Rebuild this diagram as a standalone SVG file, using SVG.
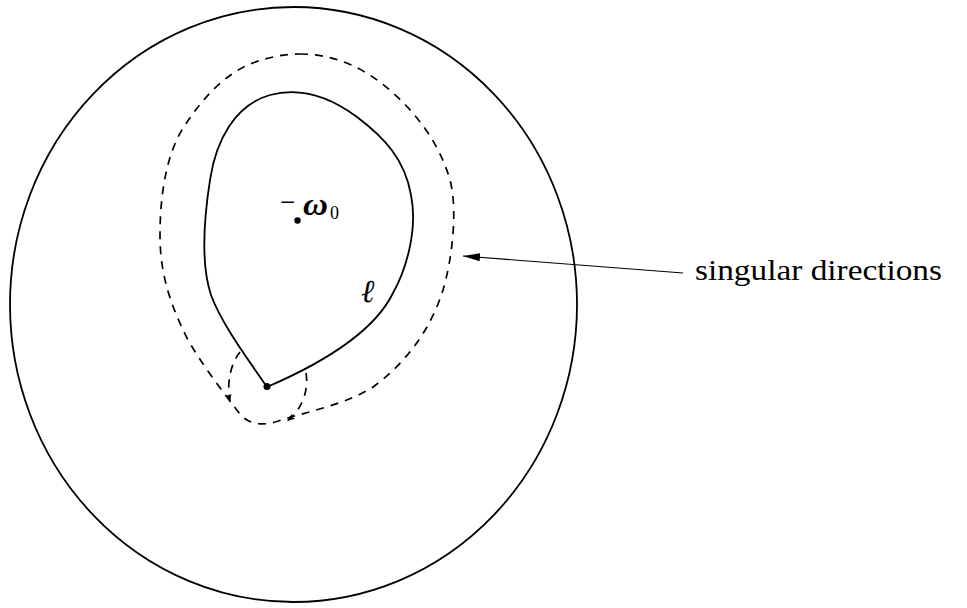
<svg xmlns="http://www.w3.org/2000/svg" width="967" height="608" viewBox="0 0 967 608">
<style>
.solid{fill:none;stroke:#000;stroke-width:1.8}
.dash{fill:none;stroke:#000;stroke-width:1.7;stroke-dasharray:8 7}
.thin{fill:none;stroke:#000;stroke-width:1.1}
.lbl{font-family:"Liberation Serif","DejaVu Serif",serif;fill:#000}
</style>
<defs>
<marker id="bigArrow" markerUnits="userSpaceOnUse" viewBox="0 0 17 8" refX="17" refY="4" markerWidth="17" markerHeight="8" orient="auto">
<path d="M0,0 L17,4 L0,8 z" fill="#000"/>
</marker>
<marker id="smallArrow" markerUnits="userSpaceOnUse" viewBox="0 0 8 6" refX="8" refY="3" markerWidth="8" markerHeight="6" orient="auto">
<path d="M0,0 L8,3 L0,6 L2,3 z" fill="#000"/>
</marker>
</defs>
<rect width="967" height="608" fill="#fff"/>
<g id="outer-disc">
<ellipse class="solid" cx="293.5" cy="304.5" rx="283.5" ry="297.5" stroke-width="1.7"/>
</g>
<g id="singular-curve">
<path class="dash" d="M300,54 C335,54 365,68 392,92 C418,115 440,145 450,180 C458,210 452,260 443,290 C432,325 410,360 373,387 C345,405 305,412 275,422 C262,426 248,424 240,414 C225,395 200,362 187,338 C168,300 160,270 160,235 C160,190 168,150 185,125 C205,95 225,75 250,64 C268,57 285,54 300,54 Z"/>
</g>
<g id="loop-l">
<path class="solid" d="M267,387 C250,362 222,325 211,295 C202,268 203,225 210,180 C216,140 235,105 270,95 C300,87 330,97 357,117 C385,138 405,160 411,195 C418,230 406,270 393,293 C375,330 325,362 267,387"/>
<circle cx="267" cy="386.5" r="3.5" fill="#000"/>
<text class="lbl" x="361" y="302" font-size="32" font-style="italic">ℓ</text>
</g>
<g id="omega0">
<circle cx="297.5" cy="220.5" r="3.2" fill="#000"/>
<text class="lbl" x="280" y="211" font-size="27">−</text>
<text class="lbl" x="303" y="215" font-size="32" font-weight="bold" font-style="italic" textLength="25" lengthAdjust="spacingAndGlyphs">ω</text>
<text class="lbl" x="330" y="219" font-size="18">0</text>
</g>
<g id="label-singular">
<text class="lbl" x="695" y="280" font-size="29" textLength="247" lengthAdjust="spacingAndGlyphs">singular directions</text>
</g>
<g id="connectors">
<path class="dash" d="M240,352 C232,362 226,380 230,402" marker-end="url(#smallArrow)"/>
<path class="dash" d="M306,373 C309,390 302,410 287,421" marker-end="url(#smallArrow)"/>
<line class="thin" x1="683" y1="273" x2="463" y2="256" marker-end="url(#bigArrow)"/>
</g>
</svg>
